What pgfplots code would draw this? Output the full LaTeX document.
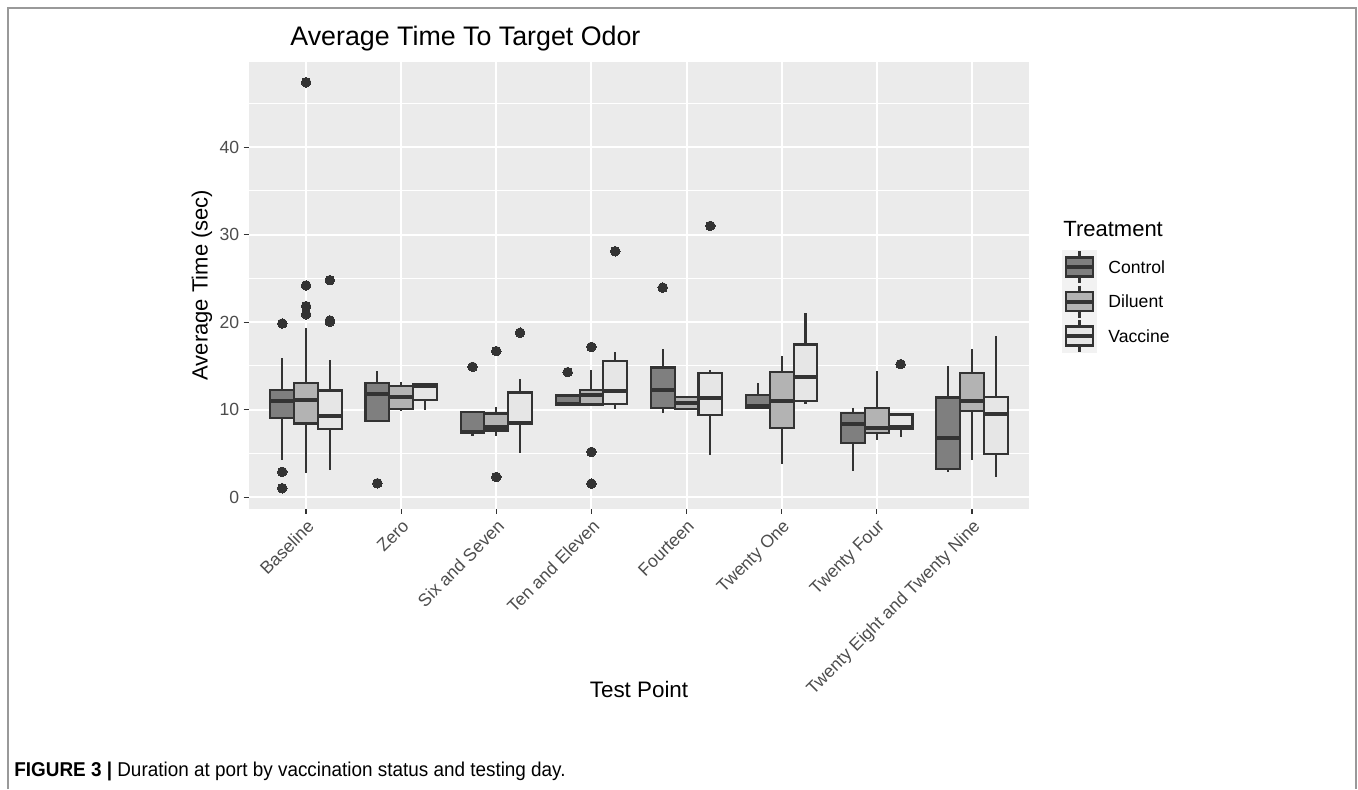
\documentclass[border=0pt]{standalone}
\usepackage{fontspec}
\setmainfont{Liberation Sans}
\usepackage{pgfplots}
\pgfplotsset{compat=1.18}
\usepgfplotslibrary{statistics}
\definecolor{panelbg}{HTML}{EBEBEB}
\definecolor{boxline}{HTML}{333333}
\definecolor{tickgray}{HTML}{333333}
\definecolor{labgray}{HTML}{4D4D4D}
\definecolor{fC}{HTML}{7F7F7F}
\definecolor{fD}{HTML}{B3B3B3}
\definecolor{fV}{HTML}{E6E6E6}
\definecolor{keybg}{HTML}{F2F2F2}
\definecolor{framegray}{HTML}{999999}
% #1 fill, #2 position, #3 lower whisker, #4 lower quartile, #5 median, #6 upper quartile, #7 upper whisker, #8 outliers
\newcommand{\bp}[8]{%
  \addplot[boxplot/draw direction=y,
    boxplot prepared={draw position=#2, lower whisker=#3, lower quartile=#4,
      median=#5, upper quartile=#6, upper whisker=#7, box extend=0.25, whisker extend=0},
    draw=boxline, line width=1.05pt, fill=#1,
    mark=*, mark size=2.4pt, mark options={fill=boxline, draw=boxline, line width=0pt},
    boxplot/every median/.style={line width=2pt}] coordinates {#8};}
\begin{document}
\begin{tikzpicture}
\path[use as bounding box] (0,0) rectangle (679pt,-394.5pt);
\begin{scope}[x=0.5pt,y=-0.5pt]
\draw[framegray, line width=0.8pt] (8,789) -- (8,8) -- (1356,8) -- (1356,789);
\end{scope}
\begin{axis}[
  at={(124.5pt,-254.25pt)}, anchor=south west,
  scale only axis, width=390pt, height=223.25pt,
  xmin=0.4, xmax=8.6, ymin=-1.29, ymax=49.72,
  axis background/.style={fill=panelbg},
  axis line style={draw=none},
  xtick={1,2,3,4,5,6,7,8},
  xticklabels={Baseline, Zero, Six and Seven, Ten and Eleven, Fourteen, Twenty One, Twenty Four, Twenty Eight and Twenty Nine},
  ytick={0,10,20,30,40},
  minor ytick={5,15,25,35,45},
  xmajorgrids, ymajorgrids, yminorgrids,
  major grid style={white, line width=1pt},
  minor grid style={white, line width=0.5pt},
  tick pos=left, tick align=outside,
  major tick length=2.7pt, minor tick length=0pt,
  tick style={color=tickgray, line width=0.6pt},
  /pgf/number format/assume math mode=true,
  ticklabel style={font=\fontsize{8.8}{10}\selectfont, text=labgray},
  xticklabel style={rotate=45, anchor=north east, inner sep=1.5pt},
  yticklabel style={inner sep=2pt},
  clip=false,
]
% Baseline
\bp{fC}{0.75}{4.3}{9.07}{11.05}{12.3}{15.85}{(0,19.85) (0,2.9) (0,1.03)}
\bp{fD}{1.00}{2.78}{8.42}{11.12}{13.1}{19.3}{(0,20.9) (0,21.83) (0,24.2) (0,47.4)}
\bp{fV}{1.25}{3.09}{7.81}{9.3}{12.19}{15.73}{(0,20.05) (0,20.2) (0,24.8)}
% Zero
\bp{fC}{1.75}{8.69}{8.69}{11.81}{13.03}{14.4}{(0,1.6)}
\bp{fD}{2.00}{9.9}{10.1}{11.43}{12.69}{13.2}{}
\bp{fV}{2.25}{10.0}{11.12}{12.72}{12.95}{13.03}{}
% Six and Seven
\bp{fC}{2.75}{6.97}{7.39}{7.47}{9.71}{9.71}{(0,14.9)}
\bp{fD}{3.00}{7.05}{7.62}{8.0}{9.56}{10.32}{(0,16.69) (0,2.32)}
\bp{fV}{3.25}{5.07}{8.34}{8.46}{11.96}{13.56}{(0,18.8)}
% Ten and Eleven
\bp{fC}{3.75}{10.51}{10.51}{10.63}{11.62}{11.62}{(0,14.29)}
\bp{fD}{4.00}{10.48}{10.59}{11.73}{12.27}{14.51}{(0,17.18) (0,5.18) (0,1.56)}
\bp{fV}{4.25}{10.1}{10.63}{12.08}{15.58}{16.57}{(0,28.1)}
% Fourteen
\bp{fC}{4.75}{9.6}{10.17}{12.27}{14.82}{16.91}{(0,23.95)}
\bp{fD}{5.00}{9.98}{10.06}{10.74}{11.47}{11.54}{}
\bp{fV}{5.25}{4.88}{9.37}{11.31}{14.21}{14.51}{(0,31.0)}
% Twenty One
\bp{fC}{5.75}{10.25}{10.25}{10.4}{11.7}{13.07}{}
\bp{fD}{6.00}{3.77}{7.96}{10.97}{14.29}{16.15}{}
\bp{fV}{6.25}{10.67}{11.01}{13.68}{17.45}{20.99}{}
% Twenty Four
\bp{fC}{6.75}{3.05}{6.17}{8.34}{9.6}{10.25}{}
\bp{fD}{7.00}{6.55}{7.35}{7.96}{10.17}{14.4}{}
\bp{fV}{7.25}{6.86}{7.81}{8.08}{9.45}{9.45}{(0,15.2)}
% Twenty Eight and Twenty Nine
\bp{fC}{7.75}{2.9}{3.2}{6.78}{11.39}{15.0}{}
\bp{fD}{8.00}{4.27}{9.9}{10.97}{14.21}{16.88}{}
\bp{fV}{8.25}{2.32}{4.99}{9.52}{11.5}{18.4}{}
\end{axis}
\begin{scope}[x=0.5pt,y=-0.5pt]
% titles
\node[anchor=base west, inner sep=0pt, font=\fontsize{13.4}{16}\selectfont] at (290,45) {Average Time To Target Odor};
\node[anchor=center, inner sep=0pt, font=\fontsize{11.2}{13}\selectfont] at (639,689) {Test Point};
\node[anchor=center, inner sep=0pt, rotate=90, font=\fontsize{11}{13}\selectfont] at (202,285) {Average Time (sec)};
% legend
\node[anchor=west, inner sep=0pt, font=\fontsize{11}{13}\selectfont] at (1063,229) {Treatment};
\foreach \yc/\col/\lab in {267/fC/Control, 301.5/fD/Diluent, 336/fV/Vaccine}{
  \fill[keybg] (1062,\yc-17.25) rectangle (1097,\yc+17.25);
  \draw[boxline, line width=1.05pt] (1079.5,\yc-16) -- (1079.5,\yc+16);
  \filldraw[fill=\col, draw=boxline, line width=1.05pt] (1066,\yc-9.5) rectangle (1093,\yc+9.5);
  \draw[boxline, line width=2pt] (1066,\yc) -- (1093,\yc);
  \node[anchor=west, inner sep=0pt, font=\fontsize{8.8}{10}\selectfont] at (1108,\yc) {\lab};
}
% caption
\node[anchor=base west, inner sep=0pt, font=\fontsize{10}{12}\selectfont] at (14,776) {\scalebox{0.945}[1]{\textbf{FIGURE 3 |} Duration at port by vaccination status and testing day.}};
\end{scope}
\end{tikzpicture}
\end{document}
